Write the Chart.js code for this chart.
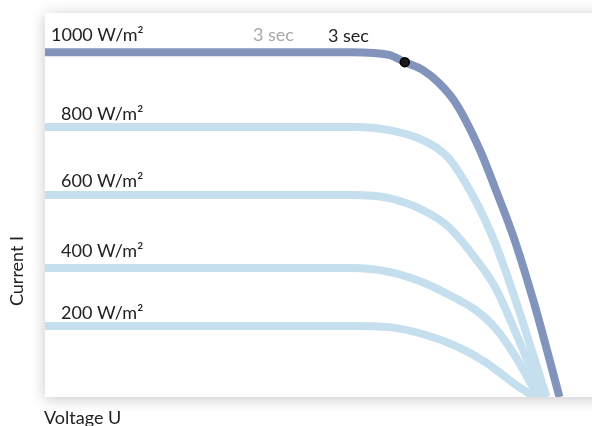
<!DOCTYPE html>
<html lang="en">
<head>
    <meta charset="UTF-8">
    <script src="https://cdn.jsdelivr.net/npm/chart.js"></script>
    <style>
        body {
            margin: 0;
            padding: 0;
            background-color: #ffffff;
        }
        #wrap {
            width: 592px;
            height: 426px;
            position: relative;
        }
    </style>
</head>
<body>
    <div id="wrap">
        <canvas id="ivChart" width="592" height="426"></canvas>
    </div>
    <script>
        // irradiance curves, voltage (x) / current (y) in relative units 0..100
        const irradiance = ['1000 W/m²', '800 W/m²', '600 W/m²', '400 W/m²', '200 W/m²'];
        const curve1000 = [
            {x: 0, y: 89.8}, {x: 56.7, y: 89.8}, {x: 63.6, y: 89.1}, {x: 66.5, y: 87.2},
            {x: 69.8, y: 85.2}, {x: 72.8, y: 81.8}, {x: 75.9, y: 76.6}, {x: 80.4, y: 64.3},
            {x: 83.2, y: 54.4}, {x: 86.8, y: 40.9}, {x: 90.5, y: 24.0}, {x: 95.1, y: 0}
        ];
        const curve800 = [
            {x: 0, y: 70.3}, {x: 56.7, y: 70.3}, {x: 63.6, y: 69.5}, {x: 69.8, y: 66.9},
            {x: 74.6, y: 62.2}, {x: 79.5, y: 51.3}, {x: 83.2, y: 40.1}, {x: 86.8, y: 26.0},
            {x: 92.7, y: 0}
        ];
        const curve600 = [
            {x: 0, y: 52.6}, {x: 56.7, y: 52.6}, {x: 63.6, y: 51.8}, {x: 69.8, y: 48.7},
            {x: 74.6, y: 44.3}, {x: 79.5, y: 36.2}, {x: 83.2, y: 28.6}, {x: 86.8, y: 17.4},
            {x: 92.0, y: 0}
        ];
        const curve400 = [
            {x: 0, y: 33.6}, {x: 56.7, y: 33.6}, {x: 63.6, y: 32.6}, {x: 69.8, y: 29.9},
            {x: 74.0, y: 27.1}, {x: 79.5, y: 22.7}, {x: 83.2, y: 18.0}, {x: 86.8, y: 10.9},
            {x: 91.2, y: 0}
        ];
        const curve200 = [
            {x: 0, y: 18.5}, {x: 56.7, y: 18.5}, {x: 63.6, y: 18.2}, {x: 69.8, y: 16.4},
            {x: 75.9, y: 13.3}, {x: 81.4, y: 9.1}, {x: 86.8, y: 3.4}, {x: 90.5, y: 0}
        ];
        const operatingPoint = [{x: 66.5, y: 87.2}];
        const timeLabels = ['3 sec', '3 sec'];

        const darkBlue = 'rgb(130, 148, 187)';
        const lightBlue = 'rgb(197, 223, 238)';

        // pixel positions of the text (layout only)
        const labelY = [35, 114.5, 181, 251.5, 313.5];
        const labelX = [51, 61, 61, 61, 61];

        function lineSet(label, data, color) {
            return {
                label: label,
                data: data,
                showLine: true,
                borderColor: color,
                borderWidth: 8,
                borderCapStyle: 'butt',
                pointRadius: 0,
                cubicInterpolationMode: 'monotone',
                clip: 0
            };
        }

        // white card with soft shadow behind the plot
        const cardPlugin = {
            id: 'card',
            beforeDraw(chart) {
                const c = chart.ctx, a = chart.chartArea;
                c.save();
                c.shadowColor = 'rgba(0, 0, 0, 0.22)';
                c.shadowBlur = 14;
                c.shadowOffsetY = 2;
                c.fillStyle = '#ffffff';
                c.fillRect(a.left, a.top, a.right - a.left + 20, a.bottom - a.top);
                c.restore();
            }
        };

        // labels above each curve + annotations
        const labelPlugin = {
            id: 'labels',
            afterDraw(chart) {
                const c = chart.ctx;
                c.save();
                c.font = '18px Lato';
                c.textBaseline = 'middle';
                c.fillStyle = '#222222';
                irradiance.forEach(function (txt, i) {
                    c.fillText(txt, labelX[i], labelY[i]);
                });
                c.fillStyle = '#a8a8a8';
                c.fillText(timeLabels[0], 253, 35);
                c.fillStyle = '#222222';
                c.fillText(timeLabels[1], 328, 36.5);
                // axis titles
                c.fillText('Voltage U', 44, 418);
                c.translate(17.5, 271);
                c.rotate(-Math.PI / 2);
                c.textAlign = 'center';
                c.fillText('Current I', 0, 0);
                c.restore();
            }
        };

        const ctx = document.getElementById('ivChart').getContext('2d');
        const ivChart = new Chart(ctx, {
            type: 'scatter',
            data: {
                datasets: [
                    {
                        label: 'point',
                        data: operatingPoint,
                        pointRadius: 4.5,
                        pointBackgroundColor: '#1a1a1a',
                        pointBorderColor: '#000000',
                        pointBorderWidth: 1.5,
                        showLine: false
                    },
                    lineSet(irradiance[0], curve1000, darkBlue),
                    lineSet(irradiance[1], curve800, lightBlue),
                    lineSet(irradiance[2], curve600, lightBlue),
                    lineSet(irradiance[3], curve400, lightBlue),
                    lineSet(irradiance[4], curve200, lightBlue)
                ]
            },
            options: {
                responsive: false,
                animation: false,
                layout: {
                    padding: {left: 45, top: 13, right: 0, bottom: 29}
                },
                plugins: {
                    legend: {display: false},
                    tooltip: {enabled: false}
                },
                scales: {
                    x: {type: 'linear', min: 0, max: 100, display: false},
                    y: {type: 'linear', min: 0, max: 100, display: false}
                }
            },
            plugins: [cardPlugin, labelPlugin]
        });
    </script>
</body>
</html>
